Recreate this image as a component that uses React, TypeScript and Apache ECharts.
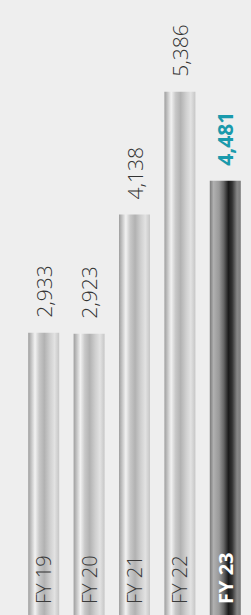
import React, { useEffect, useRef } from "react";
import * as echarts from "echarts";

const categories = ["FY 19", "FY 20", "FY 21", "FY 22", "FY 23"];
const values = [2933, 2923, 4138, 5386, 4481];
const highlightIndex = 4;

const FONT = "'Open Sans', 'Noto Sans', sans-serif";

const grayGrad = new echarts.graphic.LinearGradient(0, 0, 1, 0, [
  { offset: 0, color: "#9e9e9e" },
  { offset: 0.1, color: "#c4c4c4" },
  { offset: 0.22, color: "#f2f2f2" },
  { offset: 0.36, color: "#c8c8c8" },
  { offset: 0.52, color: "#b2b2b2" },
  { offset: 0.7, color: "#cfcfcf" },
  { offset: 0.85, color: "#e2e2e2" },
  { offset: 1, color: "#c6c6c6" },
]);

const darkGrad = new echarts.graphic.LinearGradient(0, 0, 1, 0, [
  { offset: 0, color: "#7a7a7a" },
  { offset: 0.12, color: "#b0b0b0" },
  { offset: 0.3, color: "#999999" },
  { offset: 0.45, color: "#666666" },
  { offset: 0.6, color: "#1a1a1a" },
  { offset: 0.72, color: "#333333" },
  { offset: 0.88, color: "#888888" },
  { offset: 1, color: "#7a7a7a" },
]);

export default function App() {
  const ref = useRef<HTMLDivElement>(null);
  useEffect(() => {
    document.body.style.margin = "0";
    document.body.style.background = "#eeeeee";
    document.body.style.overflow = "hidden";
    const chart = echarts.init(ref.current!, null, { renderer: "svg" });
    chart.setOption({
      animation: false,
      backgroundColor: "#eeeeee",
      grid: { left: 21, right: 3, top: 0, bottom: 1 },
      xAxis: {
        type: "category",
        data: categories,
        z: 10,
        axisLine: { show: false },
        axisTick: { show: false },
        axisLabel: {
          inside: true,
          rotate: 90,
          margin: 17,
          align: "left",
          verticalAlign: "middle",
          fontFamily: FONT,
          fontSize: 20,
          fontWeight: 300,
          color: "#3a3a3a",
          formatter: (v: string, i: number) =>
            i === highlightIndex ? `{hl|${v}}` : v,
          rich: {
            hl: {
              color: "#ffffff",
              fontWeight: "bold",
              fontFamily: FONT,
              fontSize: 20,
            },
          },
        },
      },
      yAxis: {
        type: "value",
        min: 0,
        max: 6320,
        show: false,
        splitLine: { show: false },
      },
      series: [
        {
          type: "bar",
          barWidth: 31,
          z: 2,
          data: values.map((v, i) => ({
            value: v,
            itemStyle: { color: i === highlightIndex ? darkGrad : grayGrad },
            label:
              i === highlightIndex
                ? { color: "#1a9aac", fontWeight: "bold" }
                : undefined,
          })),
          label: {
            show: true,
            position: "top",
            rotate: 90,
            distance: 15,
            align: "left",
            verticalAlign: "middle",
            fontFamily: FONT,
            fontSize: 21,
            fontWeight: 300,
            color: "#333333",
            formatter: (p: any) => p.value.toLocaleString("en-US"),
          },
        },
      ],
    });
    return () => chart.dispose();
  }, []);
  return (
    <div
      ref={ref}
      style={{ position: "absolute", left: 0, top: 0, width: 251, height: 622 }}
    />
  );
}
